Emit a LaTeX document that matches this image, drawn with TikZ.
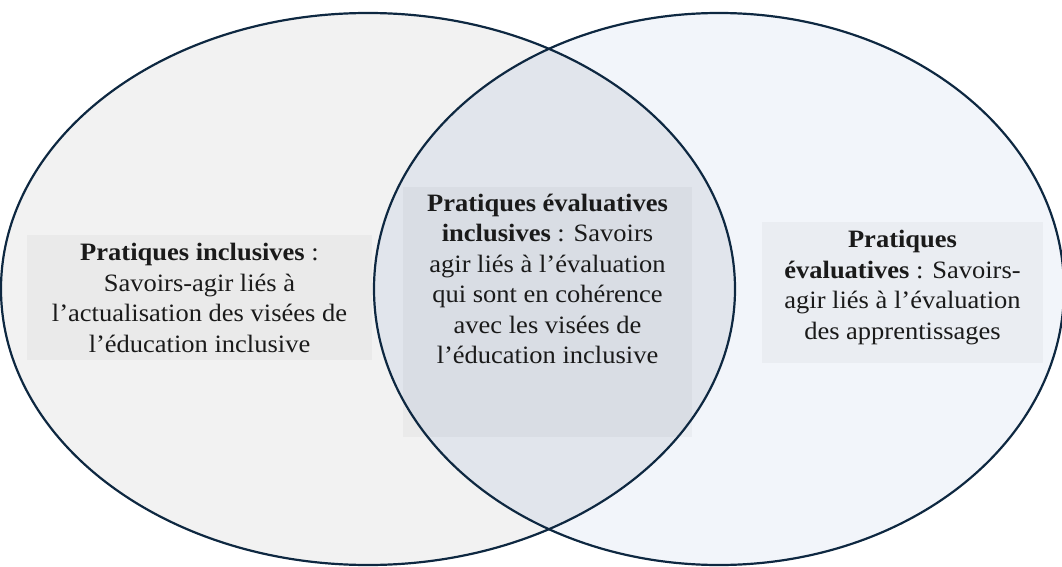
\documentclass[tikz,border=0pt]{standalone}
\usepackage{fontspec}
\setmainfont{Liberation Serif}[FakeStretch=1.06]
\definecolor{ringline}{HTML}{0E2841}
\definecolor{leftfill}{HTML}{F2F2F2}
\definecolor{rightfill}{HTML}{F2F5FA}
\definecolor{bothfill}{HTML}{E1E5EC}
\definecolor{textcol}{HTML}{1A1A1A}
\begin{document}
\begin{tikzpicture}[x=1pt,y=-1pt,
  ring/.style={draw=ringline, line width=2.2pt},
  panel/.style={fill=black, fill opacity=0.03, draw=none, inner sep=0pt},
  caption/.style={align=center, inner sep=0pt, anchor=north, text=textcol,
    font=\fontsize{25}{30.5}\selectfont}]
\useasboundingbox (0,0) rectangle (1062,567);

% two overlapping sets
\fill[leftfill]  (368,289) ellipse [x radius=367, y radius=276];
\fill[rightfill] (719,289) ellipse [x radius=345, y radius=276];
\begin{scope}
  \clip (368,289) ellipse [x radius=367, y radius=276];
  \fill[bothfill] (719,289) ellipse [x radius=345, y radius=276];
\end{scope}

% shaded text panels
\node[panel, minimum width=345pt, minimum height=125pt] (lbox) at (199.5,297.5) {};
\node[panel, minimum width=289pt, minimum height=250pt] (mbox) at (547.5,312) {};
\node[panel, minimum width=281pt, minimum height=141pt] (rbox) at (902.5,292.5) {};

% outlines
\draw[ring] (368,289) ellipse [x radius=367, y radius=276];
\draw[ring] (719,289) ellipse [x radius=345, y radius=276];

% labels
\node[caption] (ltext) at (199.5,243)
  {\textbf{Pratiques inclusives} :\\ Savoirs-agir liés à\\ l’actualisation des visées de\\ l’éducation inclusive};
\node[caption] (mtext) at (547.5,193.7)
  {\textbf{Pratiques évaluatives}\\ \textbf{inclusives} : Savoirs\\ agir liés à l’évaluation\\ qui sont en cohérence\\ avec les visées de\\ l’éducation inclusive};
\node[caption] (rtext) at (902.5,230.2)
  {\textbf{Pratiques}\\ \textbf{évaluatives} : Savoirs-\\ agir liés à l’évaluation\\ des apprentissages};
\end{tikzpicture}
\end{document}
